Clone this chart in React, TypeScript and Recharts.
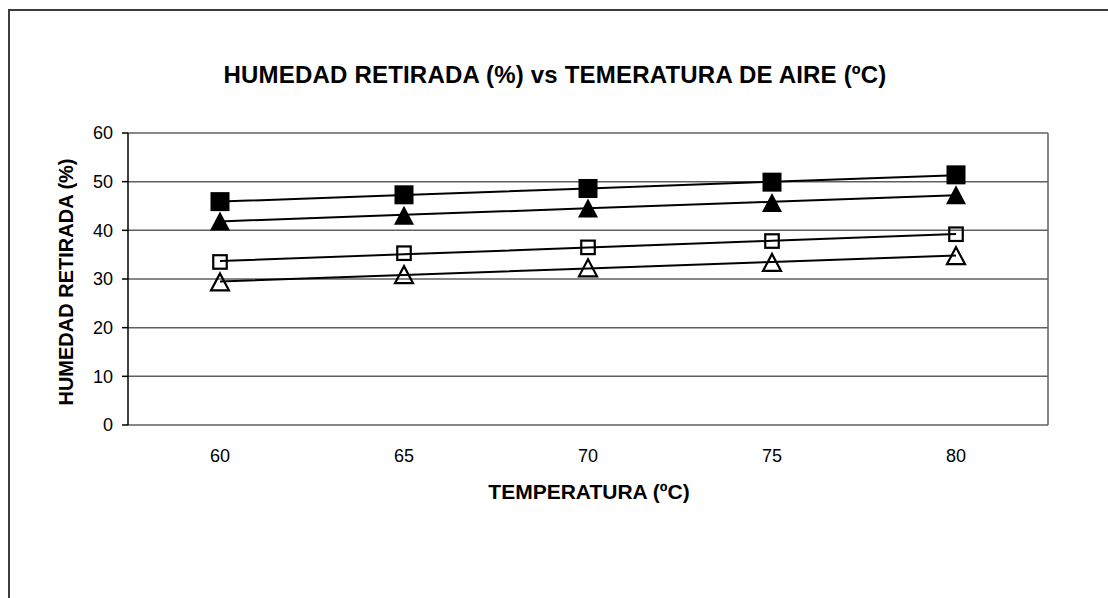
import React from 'react';
import { ComposedChart, Line, XAxis, YAxis, CartesianGrid } from 'recharts';

const categories = [60, 65, 70, 75, 80];
const filledSquare = [45.9, 47.3, 48.6, 49.9, 51.4];
const filledTriangle = [41.9, 43.1, 44.6, 45.7, 47.3];
const openSquare = [33.5, 35.3, 36.5, 37.8, 39.2];
const openTriangle = [29.4, 30.9, 32.3, 33.4, 34.8];
const yTicks = [0, 10, 20, 30, 40, 50, 60];
const titleText = 'HUMEDAD RETIRADA (%) vs TEMERATURA DE AIRE (ºC)';
const xTitle = 'TEMPERATURA (ºC)';
const yTitle = 'HUMEDAD RETIRADA (%)';

const half = (categories[1] - categories[0]) / 2;
const boundaries = [...categories.map((c) => c - half), categories[categories.length - 1] + half];
const xDomain: [number, number] = [boundaries[0], boundaries[boundaries.length - 1]];

function trend(ys: number[]): number[] {
  const n = categories.length;
  const mx = categories.reduce((a, b) => a + b, 0) / n;
  const my = ys.reduce((a, b) => a + b, 0) / n;
  let sxy = 0;
  let sxx = 0;
  categories.forEach((x, i) => {
    sxy += (x - mx) * (ys[i] - my);
    sxx += (x - mx) * (x - mx);
  });
  const b = sxy / sxx;
  return categories.map((x) => my + b * (x - mx));
}

const fsT = trend(filledSquare);
const ftT = trend(filledTriangle);
const osT = trend(openSquare);
const otT = trend(openTriangle);

const data = categories.map((t, i) => ({
  t,
  fs: filledSquare[i],
  ft: filledTriangle[i],
  os: openSquare[i],
  ot: openTriangle[i],
  fsT: fsT[i],
  ftT: ftT[i],
  osT: osT[i],
  otT: otT[i],
}));

const FONT = '"Liberation Sans", Arial, sans-serif';

const FilledSquareDot = (p: any) => {
  if (p.cx == null || p.cy == null) return <g key={`fsq-${p.index}`} />;
  const s = 19;
  return <rect key={`fsq-${p.index}`} x={p.cx - s / 2} y={p.cy - s / 2} width={s} height={s} fill="#000" />;
};
const FilledTriangleDot = (p: any) => {
  if (p.cx == null || p.cy == null) return <g key={`ftr-${p.index}`} />;
  const w = 20;
  const h = 19;
  const pts = `${p.cx},${p.cy - h / 2} ${p.cx + w / 2},${p.cy + h / 2} ${p.cx - w / 2},${p.cy + h / 2}`;
  return <polygon key={`ftr-${p.index}`} points={pts} fill="#000" />;
};
const OpenSquareDot = (p: any) => {
  if (p.cx == null || p.cy == null) return <g key={`osq-${p.index}`} />;
  const s = 13.5;
  return (
    <rect key={`osq-${p.index}`} x={p.cx - s / 2} y={p.cy - s / 2} width={s} height={s} fill="none" stroke="#000" strokeWidth={2.2} />
  );
};
const OpenTriangleDot = (p: any) => {
  if (p.cx == null || p.cy == null) return <g key={`otr-${p.index}`} />;
  const w = 18;
  const h = 17;
  const pts = `${p.cx},${p.cy - h / 2} ${p.cx + w / 2},${p.cy + h / 2} ${p.cx - w / 2},${p.cy + h / 2}`;
  return <polygon key={`otr-${p.index}`} points={pts} fill="none" stroke="#000" strokeWidth={2.2} strokeLinejoin="miter" />;
};

export default function App() {
  return (
    <div style={{ position: 'absolute', left: 0, top: 0, width: 1108, height: 598, background: '#fff', overflow: 'hidden', fontFamily: FONT }}>
      <div style={{ position: 'absolute', left: 8, top: 9, width: 1200, height: 700, borderTop: '2px solid #3c3c3c', borderLeft: '2px solid #3c3c3c' }} />
      <div style={{ position: 'absolute', left: 0, top: 63, width: 1110, textAlign: 'center', fontSize: 24, lineHeight: '24px', letterSpacing: 0.2, fontWeight: 'bold', color: '#000', whiteSpace: 'nowrap' }}>
        {titleText}
      </div>
      <div style={{ position: 'absolute', left: 89, top: 481, width: 1000, textAlign: 'center', fontSize: 21, lineHeight: '21px', fontWeight: 'bold', color: '#000' }}>
        {xTitle}
      </div>
      <div style={{ position: 'absolute', left: 66 - 200, top: 282 - 10, width: 400, height: 20, textAlign: 'center', fontSize: 20, lineHeight: '20px', fontWeight: 'bold', color: '#000', transform: 'rotate(-90deg)', transformOrigin: '200px 10px' }}>
        {yTitle}
      </div>
      <div style={{ position: 'absolute', left: 0, top: 0 }}>
        <ComposedChart width={1108} height={598} data={data} margin={{ top: 133, right: 60, bottom: 113, left: 0 }}>
          <CartesianGrid xAxisId="edge" horizontal={true} vertical={true} verticalPoints={[1048]} stroke="#606060" strokeWidth={1.5} />
          <XAxis
            xAxisId="edge"
            type="number"
            dataKey="t"
            domain={xDomain}
            ticks={boundaries}
            tickFormatter={() => ''}
            height={0}
            tickSize={7}
            axisLine={{ stroke: '#000', strokeWidth: 1.5 }}
            tickLine={{ stroke: '#000', strokeWidth: 1.5 }}
            allowDataOverflow
          />
          <XAxis
            xAxisId="lab"
            type="number"
            dataKey="t"
            domain={xDomain}
            ticks={categories}
            axisLine={false}
            tickLine={false}
            tickSize={0}
            tickMargin={24}
            height={60}
            interval={0}
            tick={{ fill: '#000', fontSize: 18, fontFamily: FONT }}
            allowDataOverflow
          />
          <YAxis
            type="number"
            domain={[0, 60]}
            ticks={yTicks}
            interval={0}
            width={128}
            tickSize={6}
            tickMargin={9}
            axisLine={{ stroke: '#000', strokeWidth: 1.5 }}
            tickLine={{ stroke: '#000', strokeWidth: 1.5 }}
            tick={{ fill: '#000', fontSize: 18, fontFamily: FONT }}
          />
          <Line xAxisId="edge" dataKey="fsT" stroke="#000" strokeWidth={2} dot={false} activeDot={false} isAnimationActive={false} legendType="none" />
          <Line xAxisId="edge" dataKey="ftT" stroke="#000" strokeWidth={2} dot={false} activeDot={false} isAnimationActive={false} legendType="none" />
          <Line xAxisId="edge" dataKey="osT" stroke="#000" strokeWidth={2} dot={false} activeDot={false} isAnimationActive={false} legendType="none" />
          <Line xAxisId="edge" dataKey="otT" stroke="#000" strokeWidth={2} dot={false} activeDot={false} isAnimationActive={false} legendType="none" />
          <Line xAxisId="lab" dataKey="fs" stroke="none" dot={FilledSquareDot} activeDot={false} isAnimationActive={false} legendType="none" />
          <Line xAxisId="lab" dataKey="ft" stroke="none" dot={FilledTriangleDot} activeDot={false} isAnimationActive={false} legendType="none" />
          <Line xAxisId="lab" dataKey="os" stroke="none" dot={OpenSquareDot} activeDot={false} isAnimationActive={false} legendType="none" />
          <Line xAxisId="lab" dataKey="ot" stroke="none" dot={OpenTriangleDot} activeDot={false} isAnimationActive={false} legendType="none" />
        </ComposedChart>
      </div>
    </div>
  );
}
